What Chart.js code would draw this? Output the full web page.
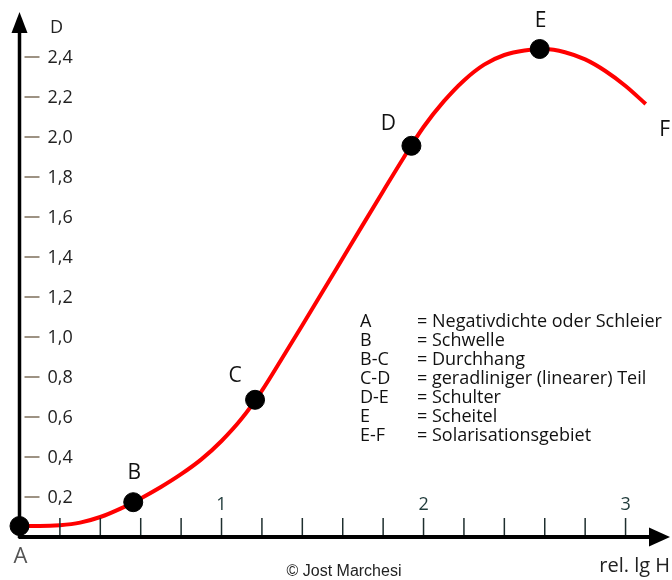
<!DOCTYPE html>
<html>
<head>
<meta charset="utf-8">
<script src="https://cdn.jsdelivr.net/npm/chart.js@4"></script>
<style>
  html, body { margin: 0; padding: 0; background: #fff; }
</style>
</head>
<body>
<canvas id="curveChart" width="672" height="580"></canvas>
<script>
// rel. lg H vs. density D
const curveX = [0, 0.1, 0.2, 0.3, 0.4, 0.5, 0.6, 0.7, 0.8, 0.9, 1.0, 1.1, 1.2, 1.3, 1.4, 1.5, 1.6, 1.7, 1.8, 1.9, 2.0, 2.1, 2.2, 2.3, 2.4, 2.5, 2.6, 2.7, 2.8, 2.9, 3.0, 3.1];
const curveD = [0.055, 0.055, 0.059, 0.072, 0.100, 0.142, 0.193, 0.250, 0.314, 0.388, 0.480, 0.592, 0.732, 0.894, 1.059, 1.226, 1.394, 1.562, 1.729, 1.894, 2.050, 2.178, 2.283, 2.362, 2.410, 2.433, 2.440, 2.424, 2.388, 2.330, 2.255, 2.165];

const pointNames = ['A', 'B', 'C', 'D', 'E'];
const pointX = [0, 0.563, 1.166, 1.94, 2.575];
const pointD = [0.055, 0.174, 0.686, 1.956, 2.44];

const yTicks = [0.2, 0.4, 0.6, 0.8, 1.0, 1.2, 1.4, 1.6, 1.8, 2.0, 2.2, 2.4];
const xTicks = [0.2, 0.4, 0.6, 0.8, 1, 1.2, 1.4, 1.6, 1.8, 2, 2.2, 2.4, 2.6, 2.8, 3];
const xLabels = [1, 2, 3];

const legendKeys = ['A', 'B', 'B-C', 'C-D', 'D-E', 'E', 'E-F'];
const legendTexts = ['Negativdichte oder Schleier', 'Schwelle', 'Durchhang', 'geradliniger (linearer) Teil', 'Schulter', 'Scheitel', 'Solarisationsgebiet'];

const fontMain = '"Open Sans", sans-serif';

// axes, ticks and all the lettering
const decorations = {
    id: 'decorations',
    afterDatasetsDraw(chart) {
        const ctx = chart.ctx;
        const xs = chart.scales.x, ys = chart.scales.y;
        const x0 = xs.getPixelForValue(0), y0 = ys.getPixelForValue(0);
        const area = chart.chartArea;
        ctx.save();

        // y ticks + labels
        ctx.font = '18px ' + fontMain;
        ctx.textBaseline = 'middle';
        ctx.textAlign = 'left';
        yTicks.forEach(v => {
            const py = ys.getPixelForValue(v);
            ctx.strokeStyle = '#7d6e5a';
            ctx.lineWidth = 1.5;
            ctx.beginPath();
            ctx.moveTo(x0 + 5, py);
            ctx.lineTo(x0 + 20, py);
            ctx.stroke();
            ctx.fillStyle = '#222';
            ctx.fillText(v.toFixed(1).replace('.', ','), x0 + 28, py + 1);
        });

        // x ticks + labels
        xTicks.forEach(v => {
            const px = xs.getPixelForValue(v);
            ctx.strokeStyle = '#1e2e2e';
            ctx.lineWidth = 1.5;
            ctx.beginPath();
            ctx.moveTo(px, y0 - 19);
            ctx.lineTo(px, y0);
            ctx.stroke();
        });
        ctx.textAlign = 'center';
        ctx.fillStyle = '#1f3a3a';
        xLabels.forEach(v => {
            ctx.fillText(String(v), xs.getPixelForValue(v), y0 - 32);
        });

        // axis lines with arrow heads
        ctx.strokeStyle = '#000';
        ctx.fillStyle = '#000';
        ctx.lineWidth = 3.5;
        ctx.beginPath();
        ctx.moveTo(x0, y0 + 1);
        ctx.lineTo(x0, area.top + 14);
        ctx.stroke();
        ctx.beginPath();
        ctx.moveTo(x0, area.top);
        ctx.lineTo(x0 - 8, area.top + 21);
        ctx.lineTo(x0 + 8, area.top + 21);
        ctx.closePath();
        ctx.fill();

        ctx.lineWidth = 4;
        ctx.beginPath();
        ctx.moveTo(x0 - 1, y0);
        ctx.lineTo(area.right - 14, y0);
        ctx.stroke();
        ctx.beginPath();
        ctx.moveTo(area.right, y0);
        ctx.lineTo(area.right - 21, y0 - 9.5);
        ctx.lineTo(area.right - 21, y0 + 9.5);
        ctx.closePath();
        ctx.fill();

        // axis titles
        ctx.fillStyle = '#222';
        ctx.font = '18px ' + fontMain;
        ctx.textAlign = 'center';
        ctx.fillText('D', x0 + 37, 28);
        ctx.font = '20px ' + fontMain;
        ctx.textAlign = 'right';
        ctx.fillText('rel. lg H', 670, 566);

        // point letters
        const offsets = [[1, 31], [1, -29], [-20, -24], [-23, -22], [1, -28]];
        pointNames.forEach((n, i) => {
            const px = xs.getPixelForValue(pointX[i]);
            const py = ys.getPixelForValue(pointD[i]);
            ctx.textAlign = 'center';
            ctx.fillStyle = i === 0 ? '#555' : '#111';
            ctx.font = (i === 0 ? '22px ' : '21px ') + fontMain;
            ctx.fillText(n, px + offsets[i][0], py + offsets[i][1]);
        });
        const last = curveX.length - 1;
        ctx.fillStyle = '#111';
        ctx.font = '21px ' + fontMain;
        ctx.fillText('F', xs.getPixelForValue(curveX[last]) + 19, ys.getPixelForValue(curveD[last]) + 26);

        // explanation block
        ctx.font = '18px ' + fontMain;
        ctx.textAlign = 'left';
        ctx.fillStyle = '#111';
        legendKeys.forEach((k, i) => {
            const ly = 322 + i * 19;
            ctx.fillText(k, 360, ly);
            ctx.fillText('= ' + legendTexts[i], 417, ly);
        });

        // credit
        ctx.font = '16px "Liberation Sans", Arial, sans-serif';
        ctx.textAlign = 'center';
        ctx.fillStyle = '#222';
        ctx.fillText('\u00A9 Jost Marchesi', 344, 572);

        ctx.restore();
    }
};

const ctx = document.getElementById('curveChart').getContext('2d');

new Chart(ctx, {
    type: 'line',
    data: {
        datasets: [{
            // Schwärzungskurve
            data: curveX.map((x, i) => ({ x: x, y: curveD[i] })),
            borderColor: '#ff0000',
            borderWidth: 4,
            pointRadius: 0,
            cubicInterpolationMode: 'monotone',
            clip: false,
            order: 2
        }, {
            type: 'scatter',
            data: pointX.map((x, i) => ({ x: x, y: pointD[i] })),
            backgroundColor: '#000',
            borderColor: '#000',
            pointRadius: 9.5,
            clip: false,
            order: 1
        }]
    },
    options: {
        responsive: false,
        animation: false,
        events: [],
        layout: { autoPadding: false, padding: { left: 19.5, right: 2, top: 12, bottom: 43 } },
        plugins: {
            legend: { display: false },
            tooltip: { enabled: false }
        },
        scales: {
            x: { type: 'linear', min: 0, max: 3.22, display: false },
            y: { type: 'linear', min: 0, max: 2.625, display: false }
        }
    },
    plugins: [decorations]
});
</script>
</body>
</html>
